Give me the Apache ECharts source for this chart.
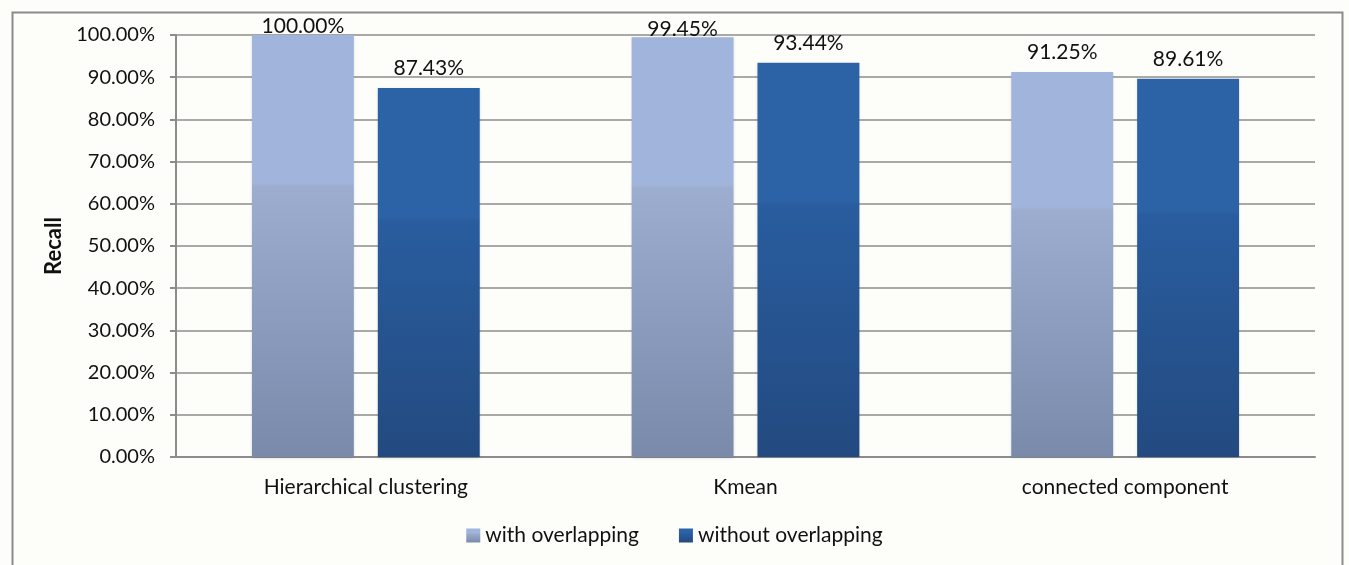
<!DOCTYPE html>
<html>
<head>
<meta charset="utf-8">
<script src="https://cdn.jsdelivr.net/npm/echarts@6/dist/echarts.min.js"></script>
<style>
  html, body { margin: 0; padding: 0; background: #fdfdfa; }
  #chart { width: 1349px; height: 565px; }
</style>
</head>
<body>
<div id="chart"></div>
<script>
// Recall per clustering method
const categories = ['Hierarchical clustering', 'Kmean', 'connected component'];
const withOverlapping = [100.00, 99.45, 91.25];
const withoutOverlapping = [87.43, 93.44, 89.61];
const seriesNames = ['with overlapping', 'without overlapping'];

const FONT = 'Lato, "Open Sans", sans-serif';
const TEXT = '#111';

// Office-style bar fill: flat top band, then a darkening gradient to the base
function barFill(top, mid, bottom) {
  return new echarts.graphic.LinearGradient(0, 0, 0, 1, [
    { offset: 0, color: top },
    { offset: 0.35, color: top },
    { offset: 0.36, color: mid },
    { offset: 1, color: bottom }
  ]);
}

const lightFill = barFill('#a1b4db', '#9cadcf', '#7a8aab');
const darkFill = barFill('#2b63a6', '#295d9f', '#234a80');

// Value labels sit above the bar; near the top of the plot they are tucked down
function withLabels(values) {
  return values.map(v => ({
    value: v,
    label: { distance: v > 97 ? -2 : 9 }
  }));
}

const valueLabel = {
  show: true, position: 'top',
  fontFamily: FONT, fontSize: 21, color: TEXT,
  formatter: p => p.value.toFixed(2) + '%'
};

const chart = echarts.init(document.getElementById('chart'));
chart.setOption({
  backgroundColor: '#fdfdfa',
  animation: false,
  graphic: [{
    type: 'rect',
    left: 10, top: 10,
    shape: { width: 1330, height: 570 },
    style: { fill: 'none', stroke: '#8c8c8c', lineWidth: 2 },
    silent: true
  }],
  grid: { left: 176, right: 34, top: 35, bottom: 108 },
  legend: {
    data: seriesNames,
    bottom: 14,
    left: 'center',
    itemWidth: 14,
    itemHeight: 14,
    itemGap: 40,
    icon: 'rect',
    textStyle: { fontFamily: FONT, fontSize: 21, color: TEXT }
  },
  xAxis: {
    type: 'category',
    data: categories,
    axisLine: { show: true, lineStyle: { color: '#8c8c8c', width: 2 } },
    axisTick: { show: false },
    axisLabel: { fontFamily: FONT, fontSize: 21, color: TEXT, margin: 20 }
  },
  yAxis: {
    type: 'value',
    min: 0, max: 100, interval: 10,
    name: 'Recall',
    nameLocation: 'middle',
    nameGap: 107,
    nameRotate: 90,
    nameTextStyle: { fontFamily: FONT, fontSize: 22, fontWeight: 'bold', color: TEXT },
    axisLine: { show: true, lineStyle: { color: '#8c8c8c', width: 2 } },
    axisTick: { show: true, length: 6, lineStyle: { color: '#8c8c8c', width: 2 } },
    splitLine: { show: true, lineStyle: { color: '#8c8c8c', width: 1.5 } },
    axisLabel: {
      fontFamily: FONT, fontSize: 20, color: TEXT, margin: 21,
      formatter: v => v.toFixed(2) + '%'
    }
  },
  series: [
    {
      name: seriesNames[0],
      type: 'bar',
      data: withLabels(withOverlapping),
      barGap: '23.5%',
      barCategoryGap: '40%',
      itemStyle: { color: lightFill, shadowColor: 'rgba(0,0,0,0.15)', shadowBlur: 3, shadowOffsetY: 1 },
      label: valueLabel
    },
    {
      name: seriesNames[1],
      type: 'bar',
      data: withLabels(withoutOverlapping),
      itemStyle: { color: darkFill, shadowColor: 'rgba(0,0,0,0.15)', shadowBlur: 3, shadowOffsetY: 1 },
      label: valueLabel
    }
  ]
});
</script>
</body>
</html>
